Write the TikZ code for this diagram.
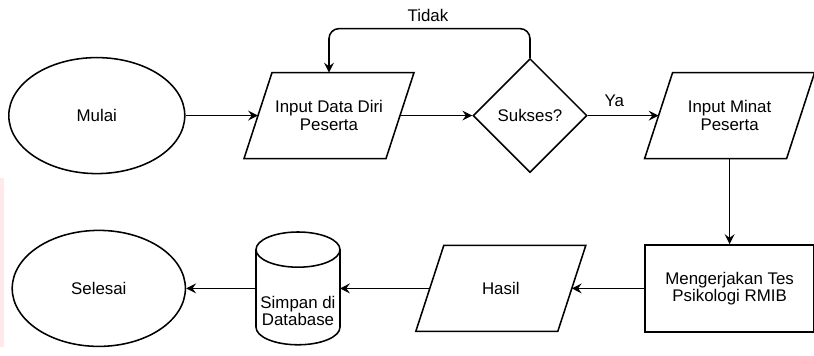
\documentclass[tikz,border=0pt]{standalone}
\usepackage{fontspec}
\setmainfont{Liberation Sans}
\usetikzlibrary{shapes.geometric,arrows.meta}

\begin{document}
\begin{tikzpicture}[
    font=\fontsize{12}{12.4}\selectfont,
    garis/.style={line width=1.1pt},
    panah/.style={garis,-{Stealth[length=7pt,width=7pt,inset=2.5pt]}},
    oval/.style={ellipse, draw, garis, minimum width=4.4cm, minimum height=2.9cm},
    jajar/.style={rectangle, outer sep=0pt, minimum width=3.55cm, minimum height=2.15cm, align=center,
        append after command={\pgfextra{\draw[garis] ([xshift=0.35cm]\tikzlastnode.north west) -- ([xshift=0.35cm]\tikzlastnode.north east) -- ([xshift=-0.35cm]\tikzlastnode.south east) -- ([xshift=-0.35cm]\tikzlastnode.south west) -- cycle;}}},
    belah/.style={diamond, draw, garis, minimum width=2.85cm, minimum height=2.85cm, inner sep=0pt},
    kotak/.style={rectangle, draw, garis, minimum width=4.22cm, minimum height=2.175cm, align=center},
    tabung/.style={rectangle, outer sep=0pt, minimum width=2.1cm, minimum height=2.82cm},
]

\useasboundingbox (0,0) rectangle (20.35,8.9);
\fill[pink!35] (0,0.22) rectangle (0.09,4.45);

\node[oval] (mulai) at (2.42,6.01) {Mulai};
\node[jajar] (data) at (8.225,6.01) {Input Data Diri\\Peserta};
\node[belah] (sukses) at (13.25,6.01) {Sukses?};
\node[jajar] (minat) at (18.24,6.01) {Input Minat\\Peserta};

\node[kotak] (tes) at (18.24,1.69) {Mengerjakan Tes\\Psikologi RMIB};
\node[jajar] (hasil) at (12.52,1.69) {Hasil};
\node[tabung] (db) at (7.45,1.69) {};
\node[align=center] (dbteks) at (7.45,1.125) {Simpan di\\Database};
\node[oval, minimum width=4.33cm] (selesai) at (2.47,1.69) {Selesai};

\node (tidak) at (10.7,8.52) {Tidak};
\node (ya) at (15.36,6.38) {Ya};

\draw[garis] ([yshift=-0.44cm]db.north west) -- ([yshift=0.44cm]db.south west) arc[start angle=180, end angle=360, x radius=1.05cm, y radius=0.44cm] -- ([yshift=-0.44cm]db.north east);
\draw[garis] ([yshift=-0.44cm]db.north) ellipse[x radius=1.05cm, y radius=0.44cm];

\draw[panah] (mulai) -- (data);
\draw[panah] (data) -- (sukses);
\draw[panah] (sukses) -- (minat);
\draw[panah, rounded corners=0.25cm] (sukses.north) -- ++(0,0.73) -| (data);
\draw[panah] (minat) -- (tes);
\draw[panah] (tes) -- (hasil);
\draw[panah] (hasil) -- (db);
\draw[panah] (db) -- (selesai);

\end{tikzpicture}
\end{document}
